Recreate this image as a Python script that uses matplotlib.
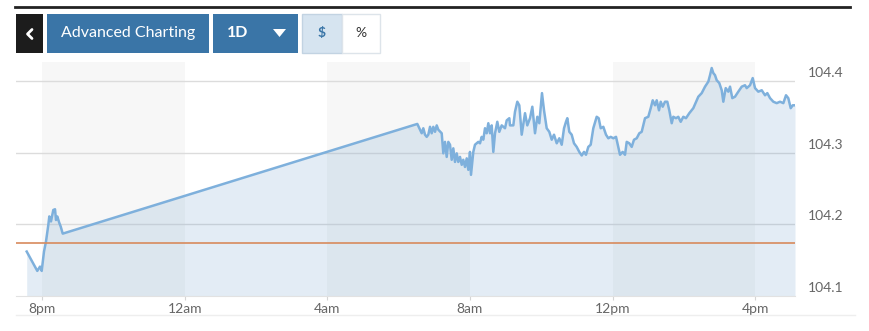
import matplotlib
matplotlib.use("Agg")
import matplotlib.pyplot as plt
from matplotlib.patches import Rectangle, Polygon

# ==================== Data ====================
# hours after 8pm, price
hours = [
    -0.429, -0.196, -0.132, -0.056, -0.008, 0.056, 0.112, 0.177, 0.205, 0.252,
    0.317, 0.365, 0.393, 0.429, 0.485, 0.524, 0.581,
    10.525, 10.600, 10.648, 10.693, 10.740, 10.788, 10.833, 10.881, 10.928, 10.973,
    11.021, 11.069, 11.113, 11.209, 11.254, 11.301, 11.349, 11.394, 11.442, 11.489,
    11.534, 11.582, 11.630, 11.674, 11.722, 11.770, 11.814, 11.862, 11.910, 11.955,
    12.002, 12.030, 12.095, 12.142, 12.235, 12.283, 12.330, 12.375, 12.423, 12.471,
    12.516, 12.564, 12.611, 12.656, 12.704, 12.768, 12.824, 12.891, 12.984, 13.032,
    13.105, 13.124, 13.217, 13.264, 13.329, 13.385, 13.452, 13.545, 13.609, 13.685,
    13.750, 13.825, 13.890, 13.946, 14.021, 14.078, 14.153, 14.226, 14.294, 14.358,
    14.434, 14.507, 14.574, 14.639, 14.694, 14.731, 14.787, 14.854, 14.919, 14.994,
    15.067, 15.135, 15.199, 15.255, 15.320, 15.387, 15.460, 15.555, 15.611, 15.668,
    15.741, 15.816, 15.881, 15.948, 16.021, 16.097, 16.161, 16.209, 16.284, 16.349,
    16.397, 16.469, 16.537, 16.601, 16.677, 16.750, 16.817, 16.862, 16.910, 17.002,
    17.070, 17.126, 17.191, 17.238, 17.302, 17.350, 17.406, 17.471, 17.535, 17.591,
    17.659, 17.703, 17.779, 17.843, 17.911, 17.984, 18.059, 18.152, 18.264, 18.360,
    18.405, 18.500, 18.593, 18.685, 18.733, 18.780, 18.825, 18.873, 18.920, 18.993,
    19.061, 19.106, 19.173, 19.246, 19.294, 19.358, 19.434, 19.526, 19.622, 19.714,
    19.762, 19.855, 19.930, 19.995, 20.087, 20.183, 20.275, 20.340, 20.416, 20.508,
    20.603, 20.696, 20.789, 20.864, 20.928, 20.996, 21.052, 21.116,
]
prices = [
    104.162, 104.141, 104.135, 104.141, 104.135, 104.162, 104.176, 104.199, 104.211, 104.204,
    104.220, 104.221, 104.206, 104.211, 104.202, 104.197, 104.187,
    104.340, 104.332, 104.327, 104.334, 104.325, 104.322, 104.325, 104.336, 104.327, 104.336,
    104.329, 104.338, 104.332, 104.327, 104.299, 104.315, 104.294, 104.315, 104.311, 104.290,
    104.306, 104.287, 104.299, 104.287, 104.294, 104.283, 104.290, 104.280, 104.292, 104.276,
    104.301, 104.269, 104.301, 104.311, 104.315, 104.313, 104.322, 104.318, 104.334, 104.327,
    104.341, 104.327, 104.338, 104.301, 104.327, 104.343, 104.329, 104.338, 104.334, 104.345,
    104.348, 104.338, 104.338, 104.357, 104.371, 104.366, 104.325, 104.355, 104.338, 104.348,
    104.364, 104.327, 104.350, 104.341, 104.383, 104.359, 104.334, 104.329, 104.318, 104.325,
    104.313, 104.320, 104.311, 104.334, 104.343, 104.348, 104.329, 104.325, 104.313, 104.308,
    104.301, 104.296, 104.301, 104.297, 104.308, 104.311, 104.334, 104.350, 104.348, 104.334,
    104.336, 104.325, 104.320, 104.322, 104.320, 104.322, 104.308, 104.297, 104.301, 104.297,
    104.315, 104.313, 104.308, 104.318, 104.320, 104.327, 104.329, 104.338, 104.348, 104.350,
    104.362, 104.373, 104.366, 104.373, 104.359, 104.371, 104.364, 104.371, 104.371, 104.359,
    104.341, 104.350, 104.348, 104.350, 104.343, 104.350, 104.348, 104.355, 104.362, 104.373,
    104.378, 104.383, 104.392, 104.399, 104.408, 104.418, 104.411, 104.408, 104.401, 104.397,
    104.387, 104.371, 104.390, 104.385, 104.392, 104.376, 104.378, 104.385, 104.392, 104.394,
    104.390, 104.394, 104.404, 104.390, 104.385, 104.387, 104.380, 104.383, 104.376, 104.371,
    104.369, 104.371, 104.369, 104.380, 104.376, 104.362, 104.366, 104.366,
]
prev_close = 104.174

tick_hours = [0, 4, 8, 12, 16, 20]
tick_labels = ["8pm", "12am", "4am", "8am", "12pm", "4pm"]
shaded_spans = [(0, 4), (8, 12), (16, 20)]
price_ticks = [104.1, 104.2, 104.3, 104.4]

# ==================== Figure ====================
W, H = 870, 331
fig = plt.figure(figsize=(W / 100, H / 100), dpi=100)
plt.rcParams['font.family'] = ['Lato', 'DejaVu Sans']

ax = fig.add_axes([16 / W, 1 - 296 / H, (795 - 16) / W, (296 - 62) / H])
ax.set_xlim(-0.729, 21.116)
ax.set_ylim(104.1, 104.4264)

for a, b in shaded_spans:
    ax.axvspan(a, b, color="#f7f7f7", zorder=0, lw=0)

for t in price_ticks[1:]:
    ax.axhline(t, color="#dcdcdc", lw=1, zorder=1)

ax.fill_between(hours, prices, 104.1, color="#5b93c7", alpha=0.17, lw=0, zorder=2)
ax.plot(hours, prices, color="#7eb0dc", lw=1.8, zorder=3)
ax.axhline(prev_close, color="#d88a5c", lw=1.2, zorder=4)

for s in ["top", "left", "right"]:
    ax.spines[s].set_visible(False)
ax.spines["bottom"].set_color("#e2e2e2")
ax.set_yticks([])
ax.set_xticks(tick_hours, tick_labels)
ax.tick_params(axis="x", length=3, color="#d5d5d5", pad=2, labelsize=10,
               labelcolor="#666666")

for t in price_ticks:
    ax.annotate(f"{t:.1f}", xy=(1, t), xycoords=("axes fraction", "data"),
                xytext=(9.4, 5.8), textcoords="offset points",
                va="center", ha="left", fontsize=10, color="#666666")

# ==================== Header buttons ====================
ui = fig.add_axes([0, 0, 1, 1])
ui.set_xlim(0, W)
ui.set_ylim(H, 0)
ui.axis("off")
ui.patch.set_alpha(0)

blue = "#3a75a7"
ui.plot([15, 850], [7, 7], color="#222222", lw=2)
ui.plot([16, 855], [315, 315], color="#eeeeee", lw=1)

# back button with a chevron
ui.add_patch(Rectangle((16, 14), 27, 39, color="#1c1c1c", lw=0))
ui.plot([32, 27.5, 32], [29.5, 34, 38.5], color="white", lw=2, solid_capstyle="round")

ui.add_patch(Rectangle((47, 14), 162, 39, color=blue, lw=0))
ui.text(128, 33, "Advanced Charting", color="white", ha="center", va="center", fontsize=11.5)

ui.add_patch(Rectangle((213, 14), 85, 39, color=blue, lw=0))
ui.text(238, 33, "1D", color="white", ha="center", va="center", fontsize=11.5, fontweight="bold")
ui.add_patch(Polygon([(273, 29), (286, 29), (279.5, 37)], closed=True, color="white", lw=0))

ui.add_patch(Rectangle((302, 14), 40, 39, facecolor="#d6e4f0", edgecolor="#c2d3e2", lw=1))
ui.text(322, 33, "$", color=blue, ha="center", va="center", fontsize=10, fontweight="bold")
ui.add_patch(Rectangle((342, 14), 38, 39, facecolor="white", edgecolor="#dde4ea", lw=1))
ui.text(361, 33, "%", color="#333333", ha="center", va="center", fontsize=10)

fig.savefig("out.png", dpi=100)
